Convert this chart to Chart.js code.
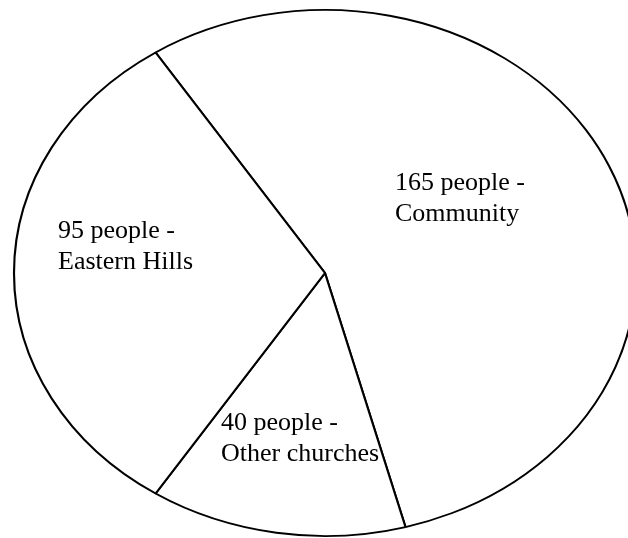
<!DOCTYPE html>
<html>
<head>
<meta charset="utf-8">
<script src="https://cdn.jsdelivr.net/npm/chart.js@4.4.1/dist/chart.umd.min.js"></script>
<style>
  html, body { margin: 0; padding: 0; background: #fff; }
  #wrap { width: 628px; height: 538px; position: relative; }
</style>
</head>
<body>
<div id="wrap"><canvas id="churchChart"></canvas></div>
<script>
// Where people came from (clockwise from top)
const groups = ['Community', 'Other churches', 'Eastern Hills'];
const people = [165, 40, 95];
const labelLines = [
  ['165 people -', 'Community'],
  ['40 people -', 'Other churches'],
  ['95 people -', 'Eastern Hills']
];

// ellipse radii the circle is stretched to
const RX = 311, RY = 263;
// text anchors (left, first baseline)
const labelPos = [[395, 190], [221, 430], [58, 238]];

const ellipsePlugin = {
  id: 'ellipse',
  beforeDatasetsDraw(chart) {
    const arc = chart.getDatasetMeta(0).data[0];
    const ctx = chart.ctx;
    ctx.save();
    ctx.translate(arc.x, arc.y);
    ctx.scale(RX / arc.outerRadius, RY / arc.outerRadius);
    ctx.translate(-arc.x, -arc.y);
  },
  afterDatasetsDraw(chart) {
    chart.ctx.restore();
  },
  afterDraw(chart) {
    const ctx = chart.ctx;
    ctx.save();
    ctx.fillStyle = '#000';
    ctx.font = '26px "Liberation Serif", "Times New Roman", serif';
    ctx.textAlign = 'left';
    ctx.textBaseline = 'alphabetic';
    labelLines.forEach((lines, i) => {
      lines.forEach((t, j) => {
        ctx.fillText(t, labelPos[i][0], labelPos[i][1] + j * 31);
      });
    });
    ctx.restore();
  }
};

const ctx = document.getElementById('churchChart').getContext('2d');
const churchChart = new Chart(ctx, {
  type: 'pie',
  data: {
    labels: groups,
    datasets: [{
      data: people,
      backgroundColor: '#ffffff',
      borderColor: '#000000',
      borderWidth: 1.8
    }]
  },
  options: {
    responsive: true,
    maintainAspectRatio: false,
    animation: false,
    rotation: -33,
    layout: { padding: { left: 62, right: 40, top: 10, bottom: 2 } },
    plugins: {
      legend: { display: false },
      tooltip: { enabled: false }
    }
  },
  plugins: [ellipsePlugin]
});
</script>
</body>
</html>
